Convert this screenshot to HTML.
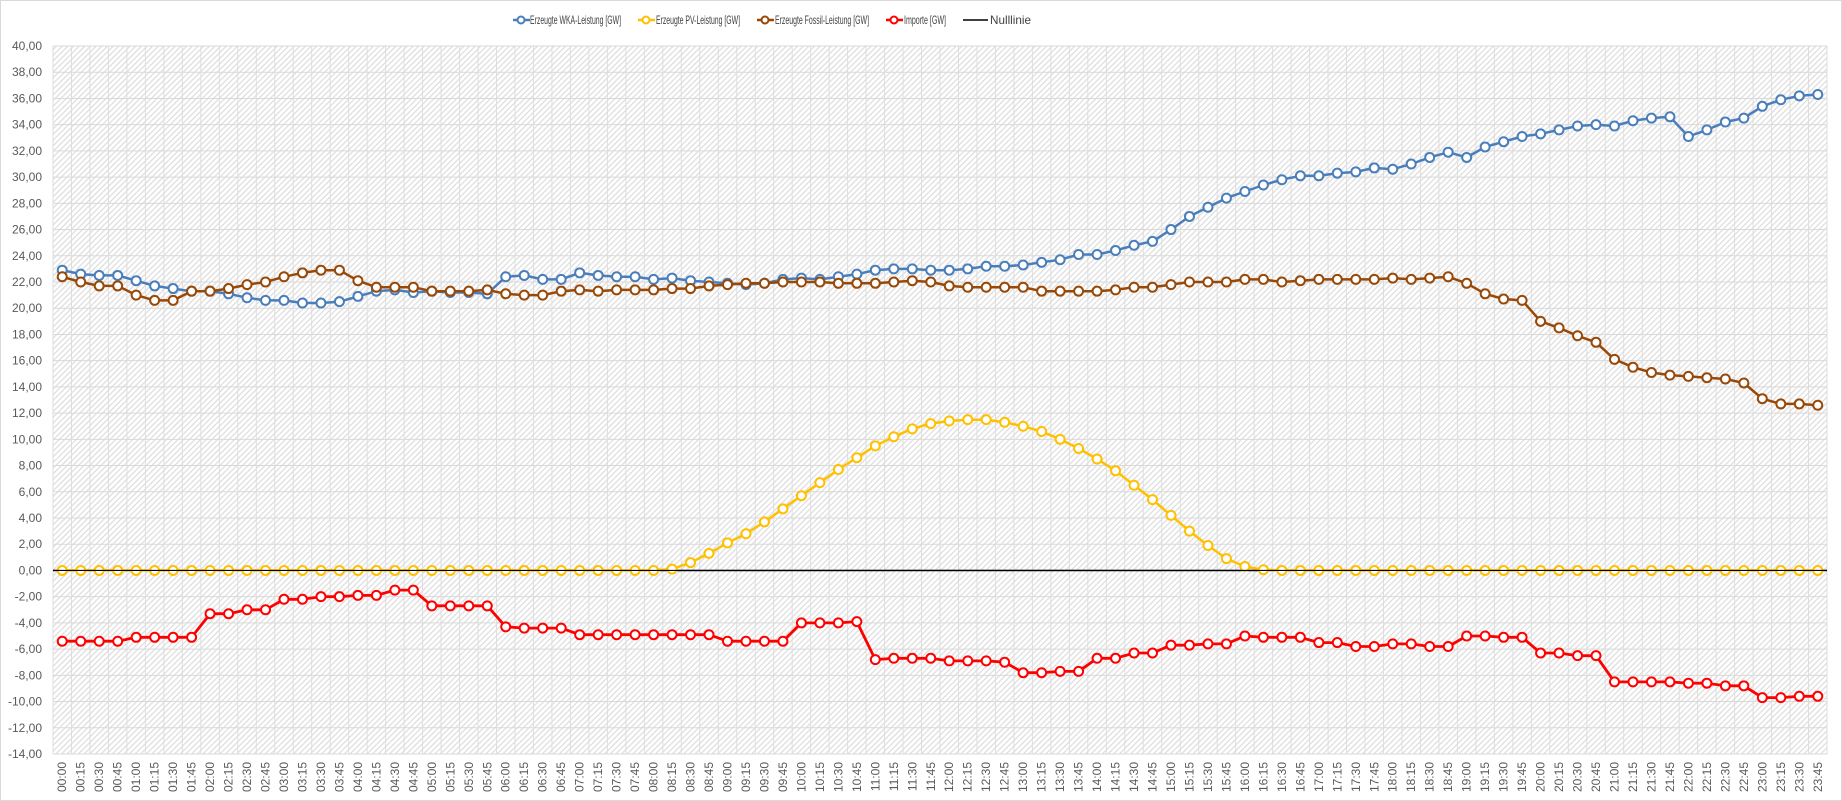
<!DOCTYPE html>
<html><head><meta charset="utf-8"><style>
html,body{margin:0;padding:0;background:#fff;}
svg{display:block;font-family:"Liberation Sans",sans-serif;}
</style></head><body>
<svg id="c" width="1842" height="801" xmlns="http://www.w3.org/2000/svg">
<defs>
<pattern id="h" width="4" height="4" patternUnits="userSpaceOnUse" patternTransform="rotate(45)">
<rect width="4" height="4" fill="#ffffff"/><rect width="1.2" height="4" fill="#dcdcdc"/>
</pattern>
</defs>
<rect x="0.5" y="0.5" width="1841" height="800" fill="#fff" stroke="#d9d9d9"/>
<rect x="53" y="46" width="1774" height="708" fill="url(#h)"/>
<g id="grid"></g>
<g id="lab" font-size="12" fill="#595959"></g>
<g id="ser"></g>
<g font-size="12" fill="#404040">
<line x1="513" y1="20" x2="530" y2="20" stroke="#4a7ebb" stroke-width="2.5"/><circle cx="521" cy="20" r="3.5" fill="#fff" stroke="#4a7ebb" stroke-width="2"/>
<text x="530" y="24" textLength="91" lengthAdjust="spacingAndGlyphs">Erzeugte WKA-Leistung [GW]</text>
<line x1="638" y1="20" x2="655" y2="20" stroke="#ffc000" stroke-width="2.5"/><circle cx="646" cy="20" r="3.5" fill="#fff" stroke="#ffc000" stroke-width="2"/>
<text x="656" y="24" textLength="84" lengthAdjust="spacingAndGlyphs">Erzeugte PV-Leistung [GW]</text>
<line x1="757" y1="20" x2="774" y2="20" stroke="#984807" stroke-width="2.5"/><circle cx="765" cy="20" r="3.5" fill="#fff" stroke="#984807" stroke-width="2"/>
<text x="775" y="24" textLength="94" lengthAdjust="spacingAndGlyphs">Erzeugte Fossil-Leistung [GW]</text>
<line x1="886" y1="20" x2="903" y2="20" stroke="#ff0000" stroke-width="2.5"/><circle cx="894" cy="20" r="3.5" fill="#fff" stroke="#ff0000" stroke-width="2"/>
<text x="904" y="24" textLength="42" lengthAdjust="spacingAndGlyphs">Importe [GW]</text>
<line x1="963" y1="20" x2="988" y2="20" stroke="#000" stroke-width="1.5"/>
<text x="990" y="24" textLength="41" lengthAdjust="spacingAndGlyphs">Nulllinie</text>
</g>
</svg>
<script>
var NS="http://www.w3.org/2000/svg";
function el(p,t,a,txt){var e=document.createElementNS(NS,t);for(var k in a)e.setAttribute(k,a[k]);if(txt!=null)e.textContent=txt;p.appendChild(e);return e;}
var X0=53,W=1774,Y0=46,H=708,N=96,st=W/N;
function X(i){return X0+st*(i+0.5);}
function Y(v){return Y0+(40-v)*H/54;}
var g=document.getElementById('grid'),lab=document.getElementById('lab'),ser=document.getElementById('ser');
for(var v=40;v>=-14;v-=2){var y=Y(v);el(g,'line',{x1:X0,x2:X0+W,y1:y,y2:y,stroke:'#d9d9d9','stroke-width':1});
el(lab,'text',{x:42,y:y+4,'text-anchor':'end'},(v<0?'-':'')+Math.abs(v).toFixed(2).replace('.',','));}
for(var i=0;i<=N;i++){var x=X0+st*i;el(g,'line',{x1:x,x2:x,y1:Y0,y2:Y0+H,stroke:'#dedede','stroke-width':1});}
for(var i=0;i<N;i++){var h=Math.floor(i/4),m=(i%4)*15;var t=(h<10?'0':'')+h+':'+(m<10?'0':'')+m;
var x=X(i)+4;el(lab,'text',{x:x,y:762,'text-anchor':'end',transform:'rotate(-90 '+x+' 762)'},t);}
var wka=[22.9,22.6,22.5,22.5,22.1,21.7,21.5,21.3,21.3,21.1,20.8,20.6,20.6,20.4,20.4,20.5,20.9,21.3,21.4,21.2,21.3,21.2,21.2,21.1,22.4,22.5,22.2,22.2,22.7,22.5,22.4,22.4,22.2,22.3,22.1,22.0,21.9,21.8,21.9,22.2,22.3,22.2,22.4,22.6,22.9,23.0,23.0,22.9,22.9,23.0,23.2,23.2,23.3,23.5,23.7,24.1,24.1,24.4,24.8,25.1,26.0,27.0,27.7,28.4,28.9,29.4,29.8,30.1,30.1,30.3,30.4,30.7,30.6,31.0,31.5,31.9,31.5,32.3,32.7,33.1,33.3,33.6,33.9,34.0,33.9,34.3,34.5,34.6,33.1,33.6,34.2,34.5,35.4,35.9,36.2,36.3];
var fos=[22.4,22.0,21.7,21.7,21.0,20.6,20.6,21.3,21.3,21.5,21.8,22.0,22.4,22.7,22.9,22.9,22.1,21.6,21.6,21.6,21.3,21.3,21.3,21.4,21.1,21.0,21.0,21.3,21.4,21.3,21.4,21.4,21.4,21.5,21.5,21.7,21.8,21.9,21.9,22.0,22.0,22.0,21.9,21.9,21.9,22.0,22.1,22.0,21.7,21.6,21.6,21.6,21.6,21.3,21.3,21.3,21.3,21.4,21.6,21.6,21.8,22.0,22.0,22.0,22.2,22.2,22.0,22.1,22.2,22.2,22.2,22.2,22.3,22.2,22.3,22.4,21.9,21.1,20.7,20.6,19.0,18.5,17.9,17.4,16.1,15.5,15.1,14.9,14.8,14.7,14.6,14.3,13.1,12.7,12.7,12.6];
var pv=[];for(var i=0;i<N;i++)pv.push(0);
var pvv=[0.1,0.6,1.3,2.1,2.8,3.7,4.7,5.7,6.7,7.7,8.6,9.5,10.2,10.8,11.2,11.4,11.5,11.5,11.3,11.0,10.6,10.0,9.3,8.5,7.6,6.5,5.4,4.2,3.0,1.9,0.9,0.3,0.05];
for(var i=0;i<pvv.length;i++)pv[33+i]=pvv[i];
var imp=[-5.4,-5.4,-5.4,-5.4,-5.1,-5.1,-5.1,-5.1,-3.3,-3.3,-3.0,-3.0,-2.2,-2.2,-2.0,-2.0,-1.9,-1.9,-1.5,-1.5,-2.7,-2.7,-2.7,-2.7,-4.3,-4.4,-4.4,-4.4,-4.9,-4.9,-4.9,-4.9,-4.9,-4.9,-4.9,-4.9,-5.4,-5.4,-5.4,-5.4,-4.0,-4.0,-4.0,-3.9,-6.8,-6.7,-6.7,-6.7,-6.9,-6.9,-6.9,-7.0,-7.8,-7.8,-7.7,-7.7,-6.7,-6.7,-6.3,-6.3,-5.7,-5.7,-5.6,-5.6,-5.0,-5.1,-5.1,-5.1,-5.5,-5.5,-5.8,-5.8,-5.6,-5.6,-5.8,-5.8,-5.0,-5.0,-5.1,-5.1,-6.3,-6.3,-6.5,-6.5,-8.5,-8.5,-8.5,-8.5,-8.6,-8.6,-8.8,-8.8,-9.7,-9.7,-9.6,-9.6];
function series(d,c,w){var p='';for(var i=0;i<N;i++)p+=(i?'L':'M')+X(i).toFixed(1)+' '+Y(d[i]).toFixed(1);
el(ser,'path',{d:p,fill:'none',stroke:c,'stroke-width':w,'stroke-linejoin':'round'});
for(var i=0;i<N;i++)el(ser,'circle',{cx:X(i),cy:Y(d[i]),r:4.5,fill:'#fff',stroke:c,'stroke-width':2});}
el(ser,'line',{x1:X0,x2:X0+W,y1:Y(0),y2:Y(0),stroke:'#000','stroke-width':1.5});
series(wka,'#4a7ebb',2.5);series(pv,'#ffc000',2.5);series(fos,'#984807',2.5);series(imp,'#ff0000',2.8);
el(ser,'line',{x1:X0,x2:X0+W,y1:Y(0),y2:Y(0),stroke:'#000','stroke-width':1.2});
</script>
</body></html>
